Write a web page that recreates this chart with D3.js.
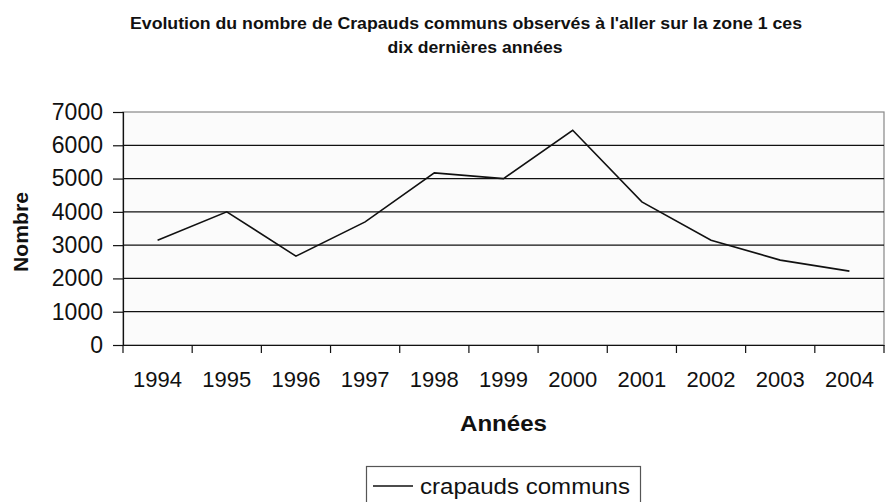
<!doctype html>
<html>
  <head>
    <meta charset="utf-8">
    <script src="https://cdn.jsdelivr.net/npm/d3@7"></script>
    <style>
      body { margin: 0; background: #ffffff; }
      text { font-family: "Liberation Sans", Arial, sans-serif; fill: #111; }
    </style>
  </head>
  <body>
    <svg id="chart"></svg>
    <script>
      // données
      var annees = ["1994","1995","1996","1997","1998","1999","2000","2001","2002","2003","2004"];
      var crapauds = [3150, 4000, 2670, 3700, 5170, 5000, 6450, 4300, 3150, 2550, 2220];
      var yTicks = [0, 1000, 2000, 3000, 4000, 5000, 6000, 7000];
      var titre = ["Evolution du nombre de Crapauds communs observés à l'aller sur la zone 1 ces",
                   "dix dernières années"];

      var width = 885, height = 502;
      var m = {left: 123, right: 1, top: 112, bottom: 157};

      var svg = d3.select("#chart").attr("width", width).attr("height", height);

      var x = d3.scaleBand().domain(annees).range([m.left, width - m.right]);
      var y = d3.scaleLinear().domain([0, 7000]).range([height - m.bottom, m.top]);

      // fond de la zone de tracé
      svg.append("rect")
        .attr("x", m.left).attr("y", m.top)
        .attr("width", width - m.right - m.left).attr("height", y(0) - m.top)
        .attr("fill", "#fbfbfb")
        .attr("stroke", "#888").attr("stroke-width", 1.2);

      // quadrillage
      svg.append("g").selectAll("line").data(yTicks.filter(d => d > 0 && d < 7000))
        .enter().append("line")
          .attr("x1", m.left).attr("x2", width - m.right)
          .attr("y1", d => y(d)).attr("y2", d => y(d))
          .attr("stroke", "#111").attr("stroke-width", 1.2);

      // axe Y
      var yAxis = svg.append("g")
        .attr("transform", "translate(" + m.left + ",0)")
        .call(d3.axisLeft(y).tickValues(yTicks).tickFormat(d3.format("d")).tickSize(10).tickPadding(10));
      yAxis.select(".domain").attr("stroke", "#111").attr("stroke-width", 1.2);
      yAxis.selectAll(".tick line").attr("stroke", "#111").attr("stroke-width", 1.2);
      yAxis.selectAll("text").attr("font-size", "23px").attr("fill", "#111")
        .attr("font-family", "Liberation Sans, Arial, sans-serif");

      // axe X : graduations entre les catégories
      var xAxis = svg.append("g")
        .attr("transform", "translate(0," + y(0) + ")")
        .call(d3.axisBottom(x).tickSize(0).tickPadding(26));
      xAxis.select(".domain").attr("stroke", "#111").attr("stroke-width", 1.2);
      xAxis.selectAll("text").attr("font-size", "22px").attr("fill", "#111")
        .attr("font-family", "Liberation Sans, Arial, sans-serif");
      var bornes = annees.map(d => x(d)).concat([x(annees[annees.length - 1]) + x.bandwidth()]);
      svg.append("g").selectAll("line").data(bornes).enter().append("line")
        .attr("x1", d => d).attr("x2", d => d)
        .attr("y1", y(0)).attr("y2", y(0) + 8)
        .attr("stroke", "#111").attr("stroke-width", 1.2);

      // courbe
      var ligne = d3.line()
        .x((d, i) => x(annees[i]) + x.bandwidth() / 2)
        .y(d => y(d));
      svg.append("path").datum(crapauds)
        .attr("d", ligne)
        .attr("fill", "none").attr("stroke", "#111").attr("stroke-width", 1.6);

      // titre
      svg.append("text").attr("x", 466).attr("y", 29)
        .attr("text-anchor", "middle").attr("font-size", "16px").attr("font-weight", "bold")
        .attr("textLength", 672).attr("lengthAdjust", "spacingAndGlyphs")
        .text(titre[0]);
      svg.append("text").attr("x", 475).attr("y", 53)
        .attr("text-anchor", "middle").attr("font-size", "16px").attr("font-weight", "bold")
        .attr("textLength", 175).attr("lengthAdjust", "spacingAndGlyphs")
        .text(titre[1]);

      // titres d'axes
      svg.append("text").attr("x", (m.left + width - m.right) / 2).attr("y", 431)
        .attr("text-anchor", "middle").attr("font-size", "22px").attr("font-weight", "bold")
        .attr("textLength", 87).attr("lengthAdjust", "spacingAndGlyphs")
        .text("Années");
      svg.append("text")
        .attr("transform", "translate(28,232) rotate(-90)")
        .attr("text-anchor", "middle").attr("font-size", "21px").attr("font-weight", "bold")
        .attr("textLength", 80).attr("lengthAdjust", "spacingAndGlyphs")
        .text("Nombre");

      // légende
      var leg = svg.append("g");
      leg.append("rect").attr("x", 366.5).attr("y", 466.5).attr("width", 274).attr("height", 50)
        .attr("fill", "#fff").attr("stroke", "#555").attr("stroke-width", 1.2);
      leg.append("line").attr("x1", 373).attr("x2", 413).attr("y1", 486).attr("y2", 486)
        .attr("stroke", "#111").attr("stroke-width", 1.4);
      leg.append("text").attr("x", 420).attr("y", 494).attr("font-size", "22px")
        .attr("textLength", 210).attr("lengthAdjust", "spacingAndGlyphs")
        .text("crapauds communs");
    </script>
  </body>
</html>
